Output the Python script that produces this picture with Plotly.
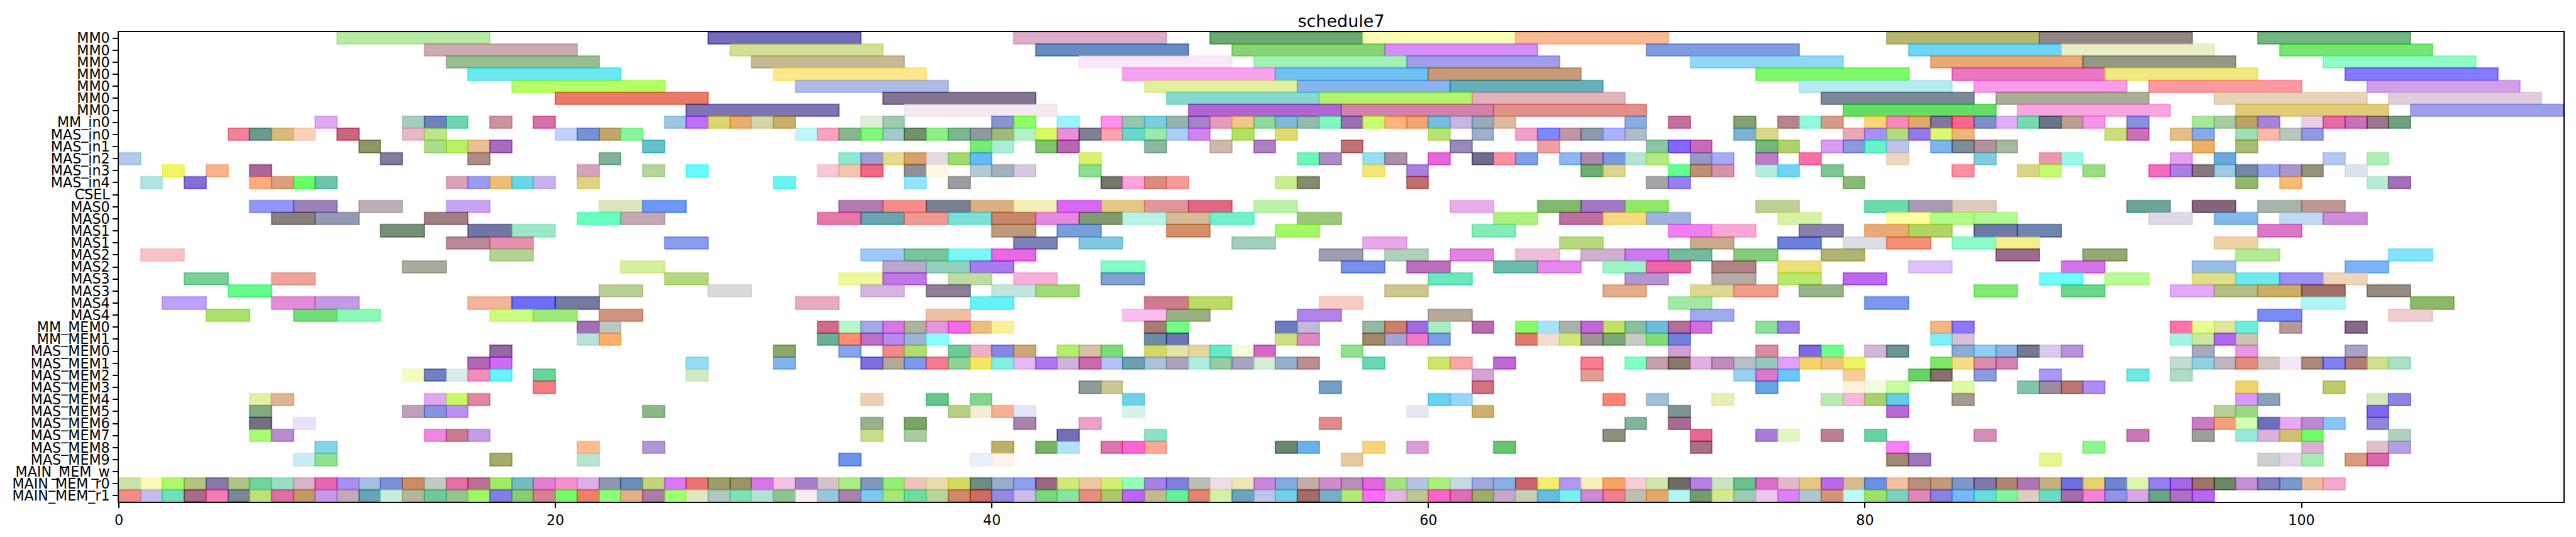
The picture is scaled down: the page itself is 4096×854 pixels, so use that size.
import plotly.graph_objects as go

TITLE = "schedule7"
ROW_LABELS = ["MM0"] * 7 + ["MM_in0", "MAS_in0", "MAS_in1", "MAS_in2", "MAS_in3", "MAS_in4", "CSEL",
              "MAS0", "MAS0", "MAS1", "MAS1", "MAS2", "MAS2", "MAS3", "MAS3", "MAS4", "MAS4",
              "MM_MEM0", "MM_MEM1", "MAS_MEM0", "MAS_MEM1", "MAS_MEM2", "MAS_MEM3", "MAS_MEM4",
              "MAS_MEM5", "MAS_MEM6", "MAS_MEM7", "MAS_MEM8", "MAS_MEM9", "MAIN_MEM_w",
              "MAIN_MEM_r0", "MAIN_MEM_r1"]
X_TICKS = [0, 20, 40, 60, 80, 100]
X_MAX = 112

# Task length per row
DURATIONS = [7] * 7 + [1] * 7 + [2] * 10 + [1] * 15

# Start times per row, and the colour each bar shows on white
s00 = [10, 27, 41, 50, 57, 64, 81, 88, 98]
c00 = "b8e9a5 726eb9 dcaecb 6ea872 fbfcb5 f9bb94 b8b873 918785 74b682".split()
s01 = [14, 28, 42, 51, 58, 70, 82, 89, 99]
c01 = "cbacb0 d3df95 688cbf 88d376 d58ef6 7f9cdf 70d5f4 ebedc6 76e573".split()
s02 = [15, 29, 44, 52, 59, 72, 83, 90, 101]
c02 = "97be92 c5b992 f9e6f7 a2f0b8 9f9fe7 92d7f7 e9a878 959885 92fac5".split()
s03 = [16, 30, 46, 53, 60, 75, 84, 91, 102]
c03 = "6ae9f0 fde78a f8a2f0 6ec1f0 c79a78 7df96a ec76c0 eeea80 847cff".split()
s04 = [18, 31, 47, 54, 61, 77, 85, 93, 103]
c04 = "b6fe66 aebbe6 e2ef9f 88b6ec 66afba b6ebef f89ce8 fd98a0 d29fe9".split()
s05 = [20, 35, 48, 55, 62, 78, 86, 96, 104]
c05 = "e97a68 807491 89d8cf b3f370 e1b3bb 7e8899 abae97 e6d3b9 dfcdde".split()
s06 = [26, 36, 49, 56, 63, 79, 87, 97, 105]
c06 = "8075b3 f5e9f0 b060d0 d282a8 e28f8a 60de60 f6a5de e2ca7b 9da0e8".split()
s07 = [9, 13, 14, 15, 17, 19, 25, 26, 27, 28, 29, 30, 34, 35, 40, 41, 43, 45, 46, 47, 48, 49, 50, 51, 52, 53, 54,
       55, 56, 57, 58, 59, 60, 61, 62, 63, 69, 71, 74, 76, 77, 78, 80, 81, 82, 83,
       84, 85, 86, 87, 88, 89, 90, 92, 95, 96, 97, 98, 100, 101, 102, 103, 104]
c07 = ("e0a8f0 a5cdc2 7080bd 72d5b0 cc93a0 d570a5 9ac6e0 c070ff dcd670 e8b06c d2d6a8 c8b06a ddecd6 9ecbb2 8596d2 8dfb66 9af5fb fd90e8 93c7b2 7accdf 95b4ab a680c8 e29db8 efc88a 90d99a 80b8d8 90bcae "
       "85f5c0 9a70b4 c9fe70 ffb57f f2a772 74bfe0 c2b8e3 98abb8 deb99f 8cade0 c4709d 85a073 b5848c 8ffadc d49c8a f8d874 f888c0 e0a96c 80759f "
       "fc6490 7f90c8 dfaef6 78d8b0 6b7788 baa092 f296e8 8890e0 a8e89a a9cba0 baa46c a484d8 ebcde8 e66ca6 c870b8 9b7890 6fa080").split()
s08 = [5, 6, 7, 8, 10, 13, 14, 20, 21, 22, 23, 31, 32, 33, 34, 35, 36, 37, 38, 39, 40, 41, 42, 43, 44, 45, 46, 47, 48, 49, 51, 53,
       60, 62, 64, 65, 66, 67, 68, 69, 74, 75, 79, 80, 81, 82, 83, 84, 91, 92, 94, 95, 97, 98, 99, 100]
c08 = ("ee8399 6c9990 d8ba7c fdd0ba c8677e e8b8c4 bce58a c2d2fe 7890d4 c2a66c 88f59c bff5fb fca3c0 88b98c 82f87c a0cbc8 72906c 90ee88 7eb690 8e9aa0 a3b97a b5efc4 dcf868 ea90d8 7e7f90 fda3ad 6cd5cc 9ee8ac aecdf5 cf85ee b0e066 e0da72 "
       "b8e274 9db0c4 eea2cc 8088ff c296aa 8a9caa aab2ff b0bcc8 7eb2d0 d8d88a eba8b8 a890f8 b2da7c 9678e8 e0f870 ecb67c c8e07c cc72b4 e6be8a 88a8ec a0dcb4 fcb9a8 b8c6be 9498e4").split()
s09 = [11, 14, 15, 16, 17, 24, 39, 40, 42, 43, 47, 50, 52, 56, 61, 65, 70, 71, 72, 75, 76, 78, 79, 80, 81, 83, 84, 85, 86, 95, 97]
c09 = ("8f9660 acdc90 baf060 eabf94 a96cbf 66c1c8 7ae87a aaeed4 80c470 b468b0 8cb8a4 cdb8ac b080c4 bd7474 978ab8 eea0a0 8cc4a4 8868f8 c66cb8 74b880 b0d070 da9cf0 8c98e0 68f4c4 bcc4ee 80b4ec 808c98 b4929c a8b8a0 e8b068 aabc74").split()
s10 = [0, 12, 16, 22, 33, 34, 35, 36, 37, 38, 39, 44, 54, 55, 57, 58, 60, 62, 63, 64, 66, 67, 68, 69, 70, 72, 73, 75, 77, 81, 85, 88, 89, 94, 96, 101, 103]
c10 = ("b0cbe8 7d7e9c ac8c88 80b098 8ee8d4 9e9ed0 e4dc8c d8a06c e3d9e0 a0da70 68b8f8 def070 6ef8b8 ac8cc4 96def0 a990a8 e468d8 746c90 fa90a0 7ea0e8 8ab8f0 ae88ac 7898e0 b6e4d4 b4ea80 9498c4 a4acfa c078c8 fe70a8 ecd8c0 80ccd8 e898ac 9af8e8 e4a0ec 6ca8d8 b4c8f2 aef0b4").split()
s11 = [2, 4, 6, 21, 24, 26, 32, 33, 34, 36, 37, 39, 40, 41, 44, 57, 59, 67, 68, 71, 72, 73, 75, 76, 78, 84, 87, 88, 90, 93, 94, 95, 96, 97, 98, 99, 100, 102]
c11 = ("f2f462 f6b48a aa6898 d4a4bc b4d69c 66fafa f6c8d8 f2c5b0 f06a84 908e96 fdf8e6 b6c8d4 a2b2bc d4c8e0 88e090 f2e67a a880e0 6cae70 dcd490 66fe90 bc9070 d694a8 b2eedc 70d4f6 80c494 fe90a0 dcd484 c4fc70 9cdc84 f46cbc ac80e0 887880 a0c8e4 7488a8 9aa8ec ac94cc 94947c dce2ea").split()
s12 = [1, 3, 6, 7, 8, 9, 15, 16, 17, 18, 19, 21, 30, 36, 38, 45, 46, 47, 48, 53, 54, 59, 70, 71, 79, 97, 99, 103, 104]
c12 = ("b0e4e0 8270d8 ffac80 dba07a 68fe66 70c4ac d8a2bc 9a9cf4 ecbe78 6ad8e4 c8b0ee dcd484 68f4f0 96e4f8 9c9ca0 747868 fea4dc d88e7c f89a98 c8ee90 848c70 c0706c a4a4a8 9880f0 8cb878 94b870 f6bc74 b8ecd4 a070b8").split()
s13 = []
c13 = []
s14 = [6, 8, 11, 15, 22, 24, 33, 35, 37, 39, 41, 43, 45, 47, 49, 52, 61, 65, 67, 69, 75, 80, 82, 84, 92, 95, 98, 100]
c14 = ("9296fa 9c80b8 bdafb8 caa4f4 dbe5bb 6c98f8 b07cb0 f68c88 7a7f92 d8b084 f2f0b4 d868f4 e2c880 df9698 de6884 bdf0a8 e8aee8 80b86c a078c4 90e868 bdcf94 6cdaac a89ab4 decabc 6ca498 846478 a4b4a8 bf9896").split()
s15 = [7, 9, 14, 21, 23, 32, 34, 36, 38, 40, 42, 44, 46, 48, 50, 54, 63, 66, 68, 70, 76, 81, 83, 85, 93, 96, 99, 101]
c15 = ("88807f 9698b4 a07f82 68fec0 c0a9b4 e678a8 68a5ae ee9a92 7ce0d8 c8866c e488e0 829a74 b8f2e4 d4bc9a 72f0cc 9cc87c aef080 bc70a0 f6da80 a0b2e0 d8f2a4 fbfea0 b4fa88 b0fa90 dfd8e6 84b8e8 c2d8f2 cc90d8").split()
s16 = [12, 16, 18, 40, 43, 48, 53, 62, 71, 73, 77, 80, 82, 85, 87, 98]
c16 = "769076 7077a4 9ce8c8 bd9a7c 7a9ed8 d48e6c a6f66c 84eab8 f080f0 f8a8d4 8880ac eaaa78 b0d464 7078a8 7084b0 dc78c8".split()
s17 = [15, 17, 25, 41, 44, 51, 57, 66, 72, 76, 79, 81, 84, 86, 96]
c17 = "b88a96 e690b0 8a9cf0 7a84b8 84c8e0 a2cfbc e8a8e8 b8d880 c8aa8c 6c80dc dadee6 f29078 8ffac8 f2ee92 eed2a6".split()
s18 = [1, 17, 34, 36, 38, 40, 55, 58, 61, 64, 67, 69, 71, 74, 78, 86, 90, 97, 104]
c18 = "f6c4c6 b4d296 a0c8fa 7ac49c 7cf6f2 e868e6 9e9cb0 b0d0ba e084e0 eec0d8 d0b0d0 cc78f0 74ba9c 84cc7c b0b470 9c6c8c 94a874 b4ea94 84e4fc".split()
s19 = [13, 23, 35, 37, 39, 45, 56, 59, 63, 65, 68, 70, 73, 76, 82, 89, 95, 102]
c19 = "a8ac9c d4f09c bba8cc 92d0bc a87cec 82fec4 7690ec bc70bc 6cbcac e488ee 9cf4c8 ec64a8 b08484 ece078 dec0fa d474e8 98bee8 7cb4f8".split()
s20 = [3, 7, 25, 33, 35, 38, 41, 45, 60, 69, 73, 76, 79, 88, 91, 95, 97, 99, 101]
c20 = "78d098 eca49c b6d87c f0f89c c078e4 bcdca4 fcaedc 84a0d0 6ce6bc b296d2 b4aaaa bae86c bc68f0 70faf8 bcfa96 e0e088 70e8f0 9a90f4 efd4bc".split()
s21 = [5, 22, 27, 34, 37, 40, 42, 58, 68, 72, 74, 77, 85, 89, 94, 96, 98, 100, 103]
c21 = "68fa8c bcce98 dcdad8 d6b4e0 8e8098 c4e4de a0da78 ccc690 e4ae88 ded694 ee9c8c 98b48c 80ea74 6cd68c e2a8fa b4bc88 caae68 a27068 948c84".split()
s22 = [2, 7, 9, 16, 18, 20, 31, 39, 47, 49, 55, 71, 80, 100, 105]
c22 = "bca2fa e48cd8 c49ae4 f2b498 706cfa 767a9e e8acbc 66f2f6 ce7c8a b8da66 f8ccc2 a4e8a4 7a98ee aef5f4 8cb868".split()
s23 = [4, 8, 10, 17, 19, 22, 37, 46, 48, 54, 60, 72, 98, 104]
c23 = "a8e26c 70dc78 8afab4 cafc7e 9eec78 d2947e f0c0a4 fcbcf0 9ab084 b084ec b8a898 9eaaf0 7a8cf8 eecccf".split()
s24 = [21, 22, 32, 33, 34, 35, 36, 37, 38, 39, 40, 47, 48, 53, 54, 57, 58, 59, 60, 62, 64, 65, 66, 67, 68, 69, 70, 71, 72, 75, 76, 83, 84, 94, 95, 96, 97, 99, 102]
c24 = ("a070b4 bec6c0 d06a88 b6f6cc a2aae6 d878e6 acb49a e496dc f06ce8 ecbe80 f8f2a0 aa7a74 72fc88 6c7ec0 c2b8d8 96b8a0 cc8068 9a6ce0 aaecc4 ba6cac 8afa68 a4e4ff aab0ac c268d8 c4e064 86c09c 6cbce0 b46c9c d070dc 88e09c a080e8 f6b480 8c78f8 fe74a8 e8fc90 dee69c 72ecdc b4989c 88688c").split()
s25 = [21, 22, 32, 33, 34, 35, 36, 37, 47, 48, 53, 54, 57, 58, 59, 60, 64, 65, 66, 67, 68, 69, 70, 71, 83, 84, 94, 95, 96, 97]
c25 = ("bce0dc ffb068 6ab094 ff8c6c bc70c4 b48cec 9cb4d4 8ffcfc 6c8ca4 6c74b4 ccdf80 e088c0 a08868 a4a4d4 ee7cc4 7c9ce4 e07a70 f0dfd0 cee878 a09498 7aa878 c4ccc0 84dc78 7080dc 80eefa d8c0d8 a4f4e4 cce89c b068f0 c8c8b0").split()
s26 = [17, 30, 33, 35, 36, 38, 39, 40, 41, 43, 44, 45, 47, 48, 49, 50, 51, 52, 56, 71, 75, 77, 78, 80, 81, 84, 85, 86, 87, 88, 89, 95, 97, 102]
c26 = ("9668a8 8aa868 84a4ec ee8c8c b4dc70 72c898 eeb0c8 8888e0 cca878 b0f06c d8c0a4 7cdc74 d4d868 e0e6a8 e4d4a0 68e8c8 f6fadc d468c4 90e08c cca0d0 d88ca0 8068e0 72fe8c d0b8d4 6c9494 8cacd8 8ccff0 8cb4e2 747890 d8ccee b890dc a8a8c0 e898e4 aca0c8").split()
s27 = [16, 17, 26, 30, 34, 35, 36, 37, 38, 39, 40, 41, 42, 43, 44, 45, 46, 47, 48, 49, 50, 51, 52, 53, 54,
       57, 60, 61, 63, 67, 69, 70, 71, 72, 73, 74, 75, 76, 77, 78, 79, 83, 84, 85, 86, 94, 95, 96, 97, 98, 99, 100, 101, 102, 103, 104]
c27 = ("b068b4 cc6cf0 96dcf4 80b4ec 7a70e0 b4a898 7a98ec f47c90 8ed296 f6e664 82f0e0 e4b8f4 b078ee d0b0dc cc68ac b8c0fc 6ca0ac acc0dc b0a0c0 aeeee0 94cca8 a8a4c8 d4eed4 94b0cc bc8c90 "
       "68d8b4 d0e468 f6a8a4 c068d4 fc7c90 80ffc4 c4a0ac 887868 e4b0e4 bc8cbc b8bec8 94cabc e0a0f4 f4d468 f4c47c ecf45c 80e868 f6dc84 dc8cac d480b0 c0dcd4 90d0e0 c0b4c0 e48c7c d0c4c4 f4e8f8 ac8878 8080f0 b07c74 d0e08c a8e0c4").split()
s28 = [13, 14, 15, 16, 17, 19, 26, 62, 67, 74, 75, 76, 79, 82, 83, 85, 88, 92, 94]
c28 = "f6fcc0 7080c0 dcecea f090b8 68f4fa 68d49c d4e8c4 d4a4d4 de9c94 9cd0f0 dc78cc 6cc4ff f6cc9c 6cd068 887070 8c9cd8 a898fc 70e8e0 b0dcc4".split()
s29 = [19, 44, 45, 55, 62, 75, 79, 80, 81, 84, 87, 88, 89, 90, 97, 101]
c29 = "f47c84 909c98 cac694 74a0c8 d07484 68a4e4 fcf2dc f0fadc c8fc9c e0f8a4 80c4b0 9c8ca0 b87870 ac8cf8 f0d468 c4c86c".split()
s30 = [6, 7, 14, 15, 16, 34, 37, 39, 46, 60, 61, 68, 70, 73, 78, 79, 80, 81, 84, 97, 98, 103, 104]
c30 = "e2f0a4 dcb494 e0a8ec c8f868 e088a0 f0d0b4 64c48c 84d48c 70d0e4 6cd0f0 9cd4f8 fe8474 a0c0d8 e8eeb4 b8eab0 f4b8dc a8d070 64cce8 a49c90 d898f8 8ca0b8 d0e8bc 8a84e0".split()
s31 = [6, 13, 14, 15, 24, 38, 39, 40, 41, 46, 59, 62, 71, 81, 96, 97, 103]
c31 = "84a884 bea0b8 8494dc bc90f0 8cb888 b4d080 f2ecd8 f4b090 e2e6f8 d8f2e8 e6e8f0 d0b068 7c9490 b868d8 b4d094 9cd884 8068ec".split()
s32 = [6, 8, 34, 36, 41, 44, 55, 69, 71, 95, 96, 97, 98, 99, 100, 101, 103]
c32 = "747080 ecdffa 98b08c 7aa468 a884ac eca0c8 e0888c 80b49c a86c94 c87cc4 f0a07c d4feb4 6c70bc e8a8f4 c088d4 88c4f8 9084dc".split()
s33 = [6, 7, 14, 15, 16, 34, 36, 43, 47, 68, 72, 75, 76, 78, 80, 85, 92, 95, 97, 98, 99, 100, 104]
c33 = "a8fa74 bc88d0 ec88e0 cc7c90 c49ce8 c8dc88 a8cc9c 746cb4 8ce0c8 8e907c e46898 a87cd8 e0f8c0 bc8090 68d0a4 d490b4 c878b4 a09c98 98e8d8 dab0dc d0c070 70fe60 b0d0bc".split()
s34 = [9, 21, 24, 40, 42, 43, 45, 46, 47, 53, 54, 57, 59, 63, 72, 81, 90, 100, 103, 104]
c34 = "84d4e8 ffbc90 b098d4 bcb068 7ab064 b4e2f8 dc74ac ff60d0 fca898 688870 6cb0e8 f6d47c dc9cd8 68c470 a87084 f880f8 90f490 dcb0d0 e0c0cc b4a0e0".split()
s35 = [8, 9, 17, 21, 33, 39, 40, 56, 81, 82, 88, 98, 99, 100, 102, 103]
c35 = "c8ecf4 90e090 a4ac68 b8e4d0 6c94ec e8f0f8 fdf2ec e8c8a0 a08a74 9c78b8 e8f48c ccd0d0 e4d8e8 a4ecb0 dc9c7c dc64ac".split()
s36 = []
c36 = []
s37 = [0, 1, 2, 3, 4, 5, 6, 7, 8, 9, 10, 11, 12, 13, 14, 15, 16, 17, 18, 19, 20, 21, 22, 23, 24, 25, 26, 27, 28, 29, 30, 31, 32, 33, 34,
       35, 36, 37, 38, 39, 40, 41, 42, 43, 44, 45, 46, 47, 48, 49, 50, 51, 52, 53, 54, 55, 56, 57, 58, 59, 60, 61, 62, 63, 64, 65, 66, 67,
       68, 69, 70, 71, 72, 73, 74, 75, 76, 77, 78, 79, 80, 81, 82, 83, 84, 85, 86, 87, 88, 89, 90, 91, 92, 93, 94, 95, 96, 97, 98, 99, 100, 101]
c37 = ("c8e4a8 fef8b8 aef86c b4c480 8c78a8 b0c488 70d49c 98e0c4 d8b4c8 e864b4 a890f0 a8c0e0 7c90d8 cc8c64 c0ccc0 e470a8 bc7094 a0ec68 74bcc0 e480d4 f890cc e0acec 9098b0 6890b8 c4d47c "
       "d878fc ec7474 9ca068 9a9468 d874e8 f4c0e4 a880c8 d4c4c8 acec88 8098c0 94ee78 ecc4bc e6deac d8d864 6c8c84 98accc 90a0ec 986880 d0e87c ecc8a4 d4ec74 94feb8 a484e0 8080dc b8bfb4 f0dce8 ece6b8 c888dc 84acdc c4aca8 "
       "d08cc8 b490b8 e068e0 a4e480 b8c0e6 a8f07c c8d8e0 a0a8dc 88b0e0 c86470 f4ee6c b498f0 f8f0b8 f4a464 f8ccd8 d0e8ac 6c6c64 b880e4 cce4c4 6cc090 d870c8 e4b8cc e8c880 bc64ec d4bc90 6890e4 f4c0a0 b89080 c09c7c "
       "8098c8 8078ac b08474 ae74b4 c4b07c 6c70dc e6d070 7084d0 dcf4b0 9480f0 a468e0 9c7468 6c8868 c890d4 8480bc 7a98cc ecbc9c f4a8cc").split()
s38 = [0, 1, 2, 3, 4, 5, 6, 7, 8, 9, 10, 11, 12, 13, 14, 15, 16, 17, 18, 19, 20, 21, 22, 23, 24, 25, 26, 27, 28, 29, 30, 31, 32, 33, 34,
       35, 36, 37, 38, 39, 40, 41, 42, 43, 44, 45, 46, 47, 48, 49, 50, 51, 52, 53, 54, 55, 56, 57, 58, 59, 60, 61, 62, 63, 64, 65, 66, 67,
       68, 69, 70, 71, 72, 73, 74, 75, 76, 77, 78, 79, 80, 81, 82, 83, 84, 85, 86, 87, 88, 89, 90, 91, 92, 93, 94, 95]
c38 = ("f48c88 c4bcec 70e0b8 a46c88 f47cb4 7c8894 bce07c dc70a4 c49868 c898e8 c4a8bc 64a4b8 c8ecd8 b0b898 70c8a0 98c090 a0f860 8080e4 88cc74 d48490 78f864 ec8068 8ffc7c e0b08c ac7ca8 "
       "a0fe70 e0e8c0 b0c8c4 84e0b4 b4e0d8 90c490 f8ecf8 98c8d8 a884ac 80c8f0 a8e67c 6cdca0 b8d49c cc8a64 cc6c64 9488e0 ccbce8 78d880 88e4a0 e49080 a8c86c bc64f8 c4b894 60f09c e08474 d4f0a8 6ca4c0 c0c4e8 74d0e8 a46c6c "
       "74b0c8 b4e874 f870f8 e0b8e0 b8c890 f868c4 dc70b4 a0ac6c c4a8cc c4d0b4 68bce0 78f0f0 cc88d4 ec8090 c0c0b0 e4a86c b4f4f0 789870 d4e890 9ccab4 ecc8f0 dc84f4 acc8cc d49478 bcfcfc a0e068 7ccfbc dc88b4 8884e0 "
       "78b8f8 68dcd8 84f4a4 dccfc0 68dcc4 a86ca8 f084d8 9094e4 d8a8e4 6ca488 ac70c4 b868f0").split()

ROW_STARTS = [s00, s01, s02, s03, s04, s05, s06, s07, s08, s09, s10, s11, s12, s13, s14, s15, s16, s17, s18, s19,
              s20, s21, s22, s23, s24, s25, s26, s27, s28, s29, s30, s31, s32, s33, s34, s35, s36, s37, s38]
ROW_COLOURS = [c00, c01, c02, c03, c04, c05, c06, c07, c08, c09, c10, c11, c12, c13, c14, c15, c16, c17, c18, c19,
               c20, c21, c22, c23, c24, c25, c26, c27, c28, c29, c30, c31, c32, c33, c34, c35, c36, c37, c38]

ALPHA = 0.6
EDGE_ALPHA = 0.5


def rgba(shown, edge_alpha):
    """Colour that, at ALPHA over white, shows as `shown`."""
    parts = [int(shown[i:i + 2], 16) for i in (0, 2, 4)]
    base = [max(0, min(255, round((p - 255 * (1 - ALPHA)) / ALPHA))) for p in parts]
    return f"rgba({base[0]},{base[1]},{base[2]},{edge_alpha})"


ys, bases, widths, fills, edges = [], [], [], [], []
for row, (starts, shown) in enumerate(zip(ROW_STARTS, ROW_COLOURS)):
    assert len(starts) == len(shown), (row, len(starts), len(shown))
    for start, colour in zip(starts, shown):
        ys.append(row)
        bases.append(start)
        widths.append(DURATIONS[row])
        fills.append(rgba(colour, ALPHA))
        edges.append(rgba(colour, EDGE_ALPHA))

fig = go.Figure(go.Bar(
    orientation="h", y=ys, x=widths, base=bases, width=1,
    marker=dict(color=fills, line=dict(color=edges, width=2.2)),
    hoverinfo="skip",
))

W, H = 4096, 854
L, R, T, B = 189.3, 4075.7, 51, 798.5
FONT = "DejaVu Sans"
axis_common = dict(showgrid=False, zeroline=False, showline=True, mirror=True, linecolor="black", linewidth=2,
                   ticks="outside", ticklen=7.9, tickwidth=1.8, tickcolor="black",
                   tickfont=dict(family=FONT, size=22.2, color="black"))
fig.update_layout(
    width=W, height=H, autosize=False,
    margin=dict(l=L, r=W - R, t=T, b=H - B, pad=0, autoexpand=False),
    paper_bgcolor="white", plot_bgcolor="white", showlegend=False, bargap=0, barmode="overlay",
    font=dict(family=FONT, color="black"),
    title=dict(text=TITLE, font=dict(family=FONT, size=27, color="black"),
               x=(L + R) / 2 / W, xanchor="center", xref="container",
               y=1 - 43 / H, yanchor="bottom", yref="container"),
    xaxis=dict(range=[0, X_MAX], tickmode="array", tickvals=X_TICKS, **axis_common),
    yaxis=dict(range=[len(ROW_LABELS) - 0.5, -0.5], tickmode="array", tickvals=list(range(len(ROW_LABELS))),
               ticktext=ROW_LABELS, **axis_common),
)
fig.write_html("out.html", config={"displayModeBar": False}, post_script="document.body.style.margin='0';")
